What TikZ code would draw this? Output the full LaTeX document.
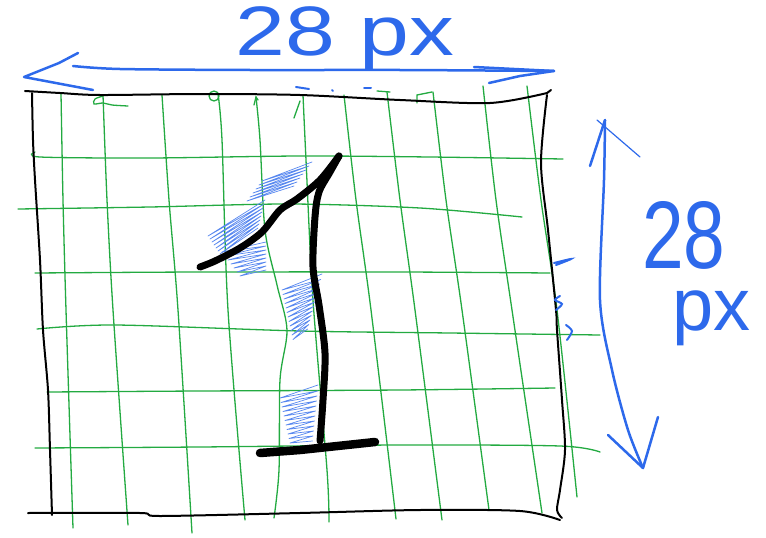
\documentclass[tikz,border=0pt]{standalone}
\usepackage{fontspec}
\usepackage{graphicx}
\setmainfont{Liberation Sans}
\definecolor{gridgreen}{RGB}{35,170,65}
\definecolor{penblue}{RGB}{45,105,235}
\tikzset{
  gridline/.style={gridgreen, line width=1.3pt, line cap=round},
  boxline/.style={black, line width=2pt, line cap=round, line join=round},
  digitline/.style={black, line width=7pt, line cap=round, line join=round},
  baseline1/.style={black, line width=8.5pt, line cap=round},
  arrowline/.style={penblue, line width=2.5pt, line cap=round, line join=round},
  thinblue/.style={penblue, line width=1.2pt, line cap=round},
  hatch/.style={penblue!80, line width=0.7pt, line join=round, line cap=round},
  dimtext/.style={penblue, inner sep=0pt},
}
\begin{document}
\begin{tikzpicture}[x=1pt,y=-1pt]
\useasboundingbox (0,0) rectangle (766,538);

% ---------- green grid: vertical lines ----------
\draw[gridline] plot[smooth] coordinates {(61,93) (63,200) (66,310) (73,528)};
\draw[gridline] plot[smooth] coordinates {(103,95) (107,200) (113,310) (128,525)};
\draw[gridline] plot[smooth] coordinates {(162,95) (169,200) (178,310) (192,533)};
\draw[gridline] plot[smooth] coordinates {(218,94) (222,140) (228,310) (245,520)};
\draw[gridline] plot[smooth] coordinates {(256,97) (260,140) (265,230) (277,285) (287,330) (280,380) (279,470) (274,518)};
\draw[gridline] plot[smooth] coordinates {(303,95) (306,160) (313,300) (327,470) (329,522)};
\draw[gridline] plot[smooth] coordinates {(344,95) (356,200) (371,310) (396,519)};
\draw[gridline] plot[smooth] coordinates {(387,92) (400,200) (415,310) (442,520)};
\draw[gridline] plot[smooth] coordinates {(433,92) (446,200) (462,310) (489,510)};
\draw[gridline] plot[smooth] coordinates {(483,86) (496,200) (512,310) (542,513)};
\draw[gridline] plot[smooth] coordinates {(527,86) (541,200) (557,310) (577,497)};

% ---------- green grid: horizontal lines ----------
\draw[gridline] plot[smooth] coordinates {(35,152) (40,157) (150,158) (300,156) (430,157) (563,159)};
\draw[gridline] plot[smooth] coordinates {(18,209) (150,207) (290,204) (420,208) (522,217)};
\draw[gridline] plot[smooth] coordinates {(35,273) (200,272) (400,272) (550,273)};
\draw[gridline] plot[smooth] coordinates {(37,329) (115,325) (300,331) (450,333) (600,335)};
\draw[gridline] plot[smooth] coordinates {(47,392) (200,391) (400,390) (555,388)};
\draw[gridline] plot[smooth] coordinates {(35,448) (200,447) (400,445) (560,446) (600,452)};

% small green scribbles at the top
\draw[gridline] plot[smooth] coordinates {(103,96) (95,99) (94,104) (103,103) (112,105) (128,106)};
\draw[gridline] (214,96) circle (5);
\draw[gridline] (254,105) -- (256,97) -- (258,100);
\draw[gridline] (377,91) -- (390,92);
\draw[gridline] (417,103) -- (417,95) -- (432,92);
\draw[gridline] (300,101) -- (294,118);

% ---------- black box ----------
\draw[boxline] plot[smooth] coordinates {(25,91) (60,93) (100,95) (200,94) (300,95) (400,100) (490,103) (547,93)};
\draw[boxline] (547,93) -- (551,90);
\draw[boxline] plot[smooth] coordinates {(32,93) (33,140) (35,180) (40,260) (43,330) (48,390) (50,450) (52,515)};
\draw[boxline] plot[smooth] coordinates {(28,513) (140,513) (160,516) (300,513) (420,510) (520,511) (560,520)};
\draw[boxline] plot[smooth] coordinates {(547,95) (541,163) (548,230) (556,310) (557,330) (562,400) (565,450) (560,490) (557,510) (562,518)};

% ---------- blue hatching ----------
\draw[hatch] (312,162) \foreach \k in {0,...,5} { -- ({262-3*\k},{181+4*\k}) -- ({312-3*(\k+1)},{162+4*(\k+1)}) };
\draw[hatch] (265,200) \foreach \k in {0,...,6} { -- ({208+2*\k},{236+3*\k}) -- ({265-\k-1},{200+4*(\k+1)}) };
\draw[hatch] (266,242) \foreach \k in {0,...,6} { -- ({222+3*\k},{252+4*\k}) -- (266,{242+4*(\k+1)}) };
\draw[hatch] (322,274) \foreach \k in {0,...,11} { -- ({282+\k},{290+4.5*\k}) -- ({322-1.2*(\k+1)},{275+4.5*(\k+1)}) };
\draw[hatch] (318,385) \foreach \k in {0,...,10} { -- ({280+\k},{398+4.5*\k}) -- ({318-0.5*(\k+1)},{386+5*(\k+1)}) };

% ---------- the digit ----------
\draw[digitline] plot[smooth, tension=0.5] coordinates {(200,267) (215,261) (240,248) (262,232) (280,210) (297,199) (320,180) (339,156)};
\draw[digitline] plot[smooth, tension=0.5] coordinates {(339,156) (330,172) (319,192) (315,217) (313,267) (319,305) (325,353) (323,400) (320,441)};
\draw[baseline1] (260,453) -- (300,450) -- (375,442);

% ---------- dimension arrows ----------
\coordinate (tl) at (24,77);
\coordinate (tr) at (554,71);
\draw[arrowline] plot[smooth] coordinates {(73,66) (120,69) (250,70) (400,70) (554,71)};
\draw[arrowline] (78,53) -- (59,63) -- (tl) -- (93,90);
\draw[arrowline] (474,67) -- (tr) -- (520,76) -- (489,83);

\coordinate (rt) at (605,120);
\coordinate (rb) at (643,468);
\draw[arrowline] plot[smooth] coordinates {(rt) (604,180) (600,300) (612,370) (628,430) (rb)};
\draw[arrowline] (590,166) -- (rt);
\draw[thinblue] (597,120) -- (640,157);
\draw[arrowline] (608,435) -- (rb) -- (658,417);

% small blue marks
\draw[thinblue, line width=2pt] (296,87) -- (309,89);
\draw[thinblue, line width=2pt] (332,90) -- (333,91);
\draw[thinblue, line width=2pt] (364,88) -- (371,88);
\draw[thinblue, line width=2pt] plot[smooth] coordinates {(554,263) (571,259) (556,265)};
\draw[thinblue, line width=2pt] plot[smooth] coordinates {(560,296) (555,300) (562,304) (556,310)};
\draw[thinblue, line width=2pt] plot[smooth] coordinates {(566,325) (572,331) (567,340)};

% ---------- labels ----------
\node[dimtext, xscale=1.28, anchor=base] (toplabel) at (345,55) {\fontsize{70}{70}\selectfont 28 px};
\node[dimtext, align=left, anchor=north west] (rightlabel) at (642,201)
  {\fontsize{96}{96}\selectfont\scalebox{0.78}[1]{28}\\[21pt]
   \hspace*{30pt}\fontsize{74}{74}\selectfont px};
\end{tikzpicture}
\end{document}
